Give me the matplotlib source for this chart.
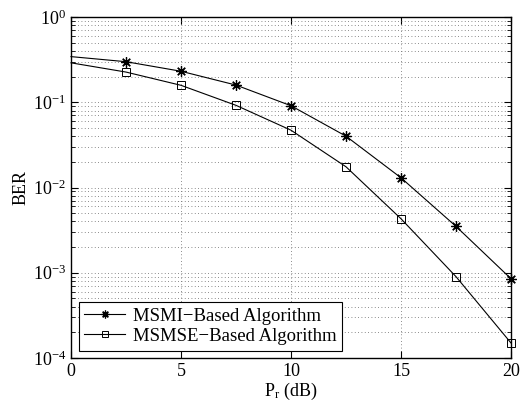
import matplotlib
matplotlib.use("Agg")
import matplotlib.pyplot as plt
from matplotlib.ticker import LogLocator, NullFormatter, MultipleLocator

plt.rcParams['font.family'] = ['Liberation Serif', 'DejaVu Serif']
plt.rcParams['mathtext.fontset'] = 'custom'
plt.rcParams['mathtext.rm'] = 'Liberation Serif'
plt.rcParams['mathtext.it'] = 'Liberation Serif:italic'

pr_db = [0, 2.5, 5, 7.5, 10, 12.5, 15, 17.5, 20]
ber_msmi = [0.343, 0.299, 0.231, 0.159, 0.091, 0.040, 0.013, 0.0035, 0.00085]
ber_msmse = [0.29, 0.226, 0.158, 0.092, 0.047, 0.0175, 0.0043, 0.0009, 0.00015]
labels = ['MSMI\u2212Based Algorithm', 'MSMSE\u2212Based Algorithm']

fig = plt.figure(figsize=(5.28, 4.09), dpi=100)
ax = fig.add_axes([71/528, 1-358/409, 440/528, 341/409])

ax.semilogy(pr_db, ber_msmi, '-', color='black', lw=0.8, marker=(8, 2, 0), ms=7.5,
            markevery=list(range(1, len(pr_db))), mfc='black', mec='black', mew=0.9,
            label=labels[0], clip_on=False)
ax.semilogy(pr_db, ber_msmse, '-', color='black', lw=0.8, marker='s', ms=6,
            markevery=list(range(1, len(pr_db))), mfc='none', mec='black', mew=0.7,
            label=labels[1], clip_on=False)

ax.set_xlim(0, 20)
ax.set_ylim(1e-4, 1)
ax.xaxis.set_major_locator(MultipleLocator(5))
ax.yaxis.set_major_locator(LogLocator(base=10, numticks=10))
ax.yaxis.set_minor_locator(LogLocator(base=10, subs=range(2, 10), numticks=50))
ax.yaxis.set_minor_formatter(NullFormatter())

ax.grid(True, which='major', linestyle=(0, (1, 3)), color='#666666', lw=0.6)
ax.grid(True, which='minor', axis='y', linestyle=(0, (1, 3)), color='#666666', lw=0.6)

ax.tick_params(which='both', direction='in', top=True, right=True, labelsize=13)
ax.tick_params(which='major', length=5)
ax.tick_params(which='minor', length=3)
for s in ax.spines.values():
    s.set_linewidth(1.0)

ax.set_xlabel(r'P$_{\mathrm{r}}$ (dB)', fontsize=13, labelpad=1)
ax.set_ylabel('BER', fontsize=13, labelpad=2)

leg = ax.legend(loc='lower left', fontsize=13.5, fancybox=False, framealpha=1,
                edgecolor='black', borderaxespad=0.4, handlelength=2.2,
                borderpad=0.3, labelspacing=0.15, handletextpad=0.4,
                markerscale=0.75)
leg.get_frame().set_linewidth(0.8)

fig.savefig('out.png', dpi=100)
